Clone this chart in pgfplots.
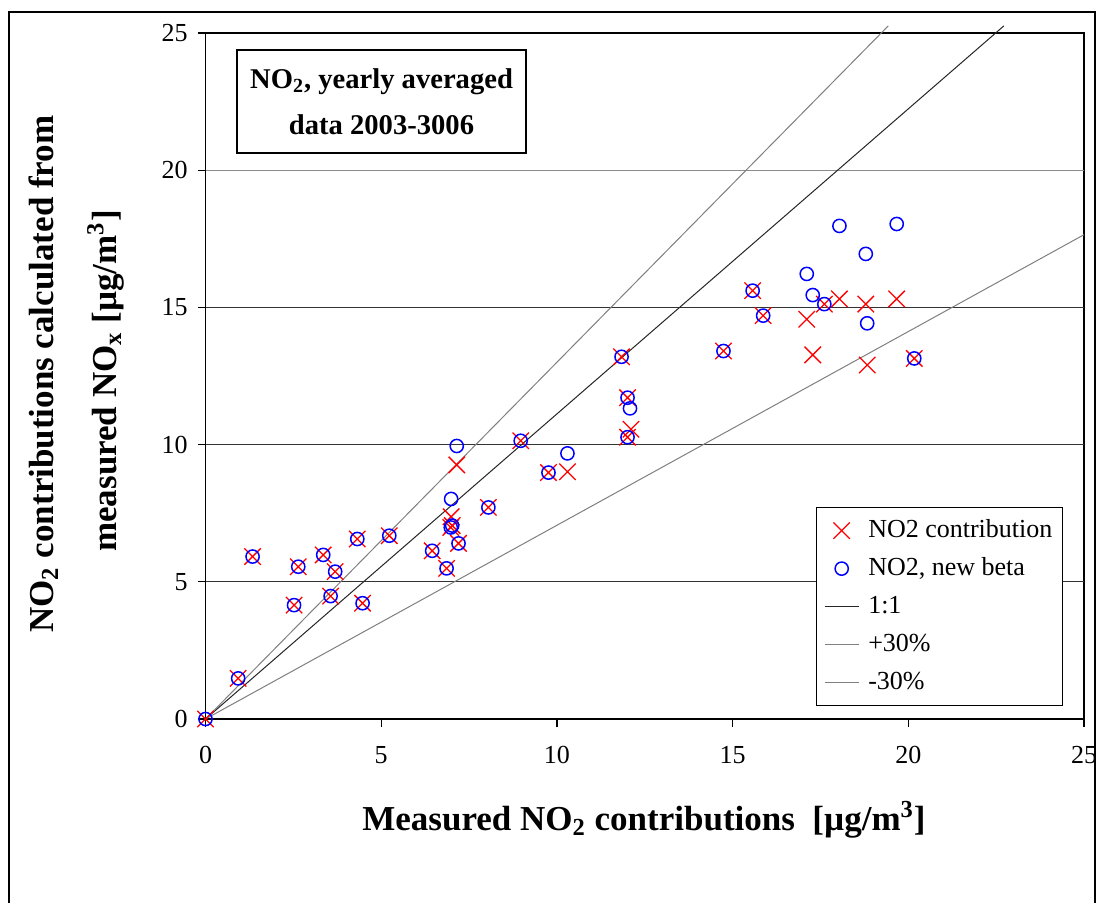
\documentclass[border=0pt]{standalone}
\usepackage{fontspec}
\setmainfont{Liberation Serif}
\usepackage{pgfplots}
\pgfplotsset{compat=1.18}
\begin{document}
\begin{tikzpicture}
\useasboundingbox (0,0) rectangle (550.5pt,-451.5pt);
\fill[white] (0,0) rectangle (550.5pt,-451.5pt);
\draw[black, line width=0.6pt] (4.5pt,-451.5pt) -- (4.5pt,-6pt) -- (547.5pt,-6pt) -- (547.5pt,-451.5pt);
\begin{axis}[
  at={(102.75pt,-359.5pt)}, anchor=south west,
  scale only axis, width=439.25pt, height=343pt,
  xmin=0, xmax=25, ymin=0, ymax=25,
  xtick={0,5,...,25}, ytick={0,5,...,25},
  tick align=outside, major tick length=4pt,
  tick pos=left,
  axis line style={line width=0.8pt},
  tick style={black, line width=0.6pt},
  /pgf/number format/assume math mode=true,
  ticklabel style={font=\fontsize{13}{15}\selectfont},
  xticklabel style={yshift=-6pt},
  yticklabel style={xshift=-1.4pt},
  clip=false,
  legend style={at={(0.9761,0.309)}, anchor=north east, draw=black, line width=0.6pt,
    font=\fontsize{13}{15}\selectfont,
    nodes={inner sep=1pt, text height=10pt, text depth=3pt},
    row sep=4pt, inner xsep=4pt, inner ysep=4pt,
    /tikz/every odd column/.append style={column sep=3.5pt}},
  legend cell align=left,
]
% horizontal grid lines
\addplot[black!80, line width=0.5pt, forget plot] coordinates {(0,5) (25,5)};
\addplot[black!80, line width=0.5pt, forget plot] coordinates {(0,10) (25,10)};
\addplot[black!80, line width=0.5pt, forget plot] coordinates {(0,15) (25,15)};
\addplot[black!45, line width=0.5pt, forget plot] coordinates {(0,20) (25,20)};

\addplot[only marks, mark=x, mark size=5.8pt, mark options={red, line width=0.65pt}] coordinates {
(0,0) (0.93,1.48) (1.34,5.92) (2.52,4.15) (2.64,5.55) (3.35,5.98) (3.56,4.48) (3.69,5.37)
(4.32,6.56) (4.47,4.22) (5.23,6.68) (6.45,6.13) (6.86,5.49) (6.98,6.98) (7.02,7.05) (6.99,7.37)
(7.2,6.40) (7.15,9.26) (8.05,7.71) (8.97,10.14) (9.76,8.98) (10.30,9.01) (11.84,13.20)
(12.01,11.71) (12.11,10.56) (12.01,10.27) (14.74,13.41) (15.57,15.61) (15.87,14.70)
(17.11,14.57) (17.28,13.27) (17.61,15.12) (18.04,15.31) (18.79,15.12) (18.83,12.9)
(19.67,15.31) (20.17,13.14)
};
\addlegendentry{NO2 contribution}
\addplot[only marks, mark=o, mark size=3.3pt, mark options={blue, line width=0.75pt}] coordinates {
(0,0) (0.93,1.48) (1.34,5.92) (2.52,4.15) (2.64,5.55) (3.35,5.98) (3.56,4.48) (3.69,5.37)
(4.32,6.56) (4.47,4.22) (5.23,6.68) (6.45,6.13) (6.86,5.49) (6.98,6.98) (7.02,7.05) (6.99,8.02)
(7.2,6.40) (7.15,9.95) (8.05,7.71) (8.97,10.14) (9.76,8.98) (10.30,9.68) (11.84,13.20)
(12.01,11.71) (12.08,11.32) (12.01,10.27) (14.74,13.41) (15.57,15.61) (15.87,14.70)
(17.11,16.22) (17.28,15.45) (17.61,15.12) (18.04,17.97) (18.79,16.95) (18.83,14.42)
(19.67,18.04) (20.17,13.14)
};
\addlegendentry{NO2, new beta}
\addplot[black!85, line width=0.5pt] coordinates {(0,0) (22.72,25.26)};
\addlegendentry{1:1}
\addplot[black!50, line width=0.5pt] coordinates {(0,0) (19.43,25.26)};
\addlegendentry{+30\%}
\addplot[black!50, line width=0.5pt] coordinates {(0,0) (25,17.65)};
\addlegendentry{-30\%}
\end{axis}
\node[draw, line width=0.6pt, minimum width=144.5pt, minimum height=51.5pt, align=center,
  font=\fontsize{14.3}{23}\selectfont\bfseries] at (190.75pt,-50.75pt)
  {NO\textsubscript{2}, yearly averaged\\data 2003-3006};
\node[rotate=90, anchor=base, font=\fontsize{17.5}{20}\selectfont\bfseries] at (26.5pt,-187pt)
  {NO\textsubscript{2} contributions calculated from};
\node[rotate=90, anchor=base, font=\fontsize{17.5}{20}\selectfont\bfseries] at (58pt,-190.5pt)
  {measured NO\textsubscript{x} [µg/m\textsuperscript{3}]};
\node[anchor=base, font=\fontsize{17.5}{20}\selectfont\bfseries] at (322pt,-415pt)
  {Measured NO\textsubscript{2} contributions~~[µg/m\textsuperscript{3}]};
\end{tikzpicture}
\end{document}
